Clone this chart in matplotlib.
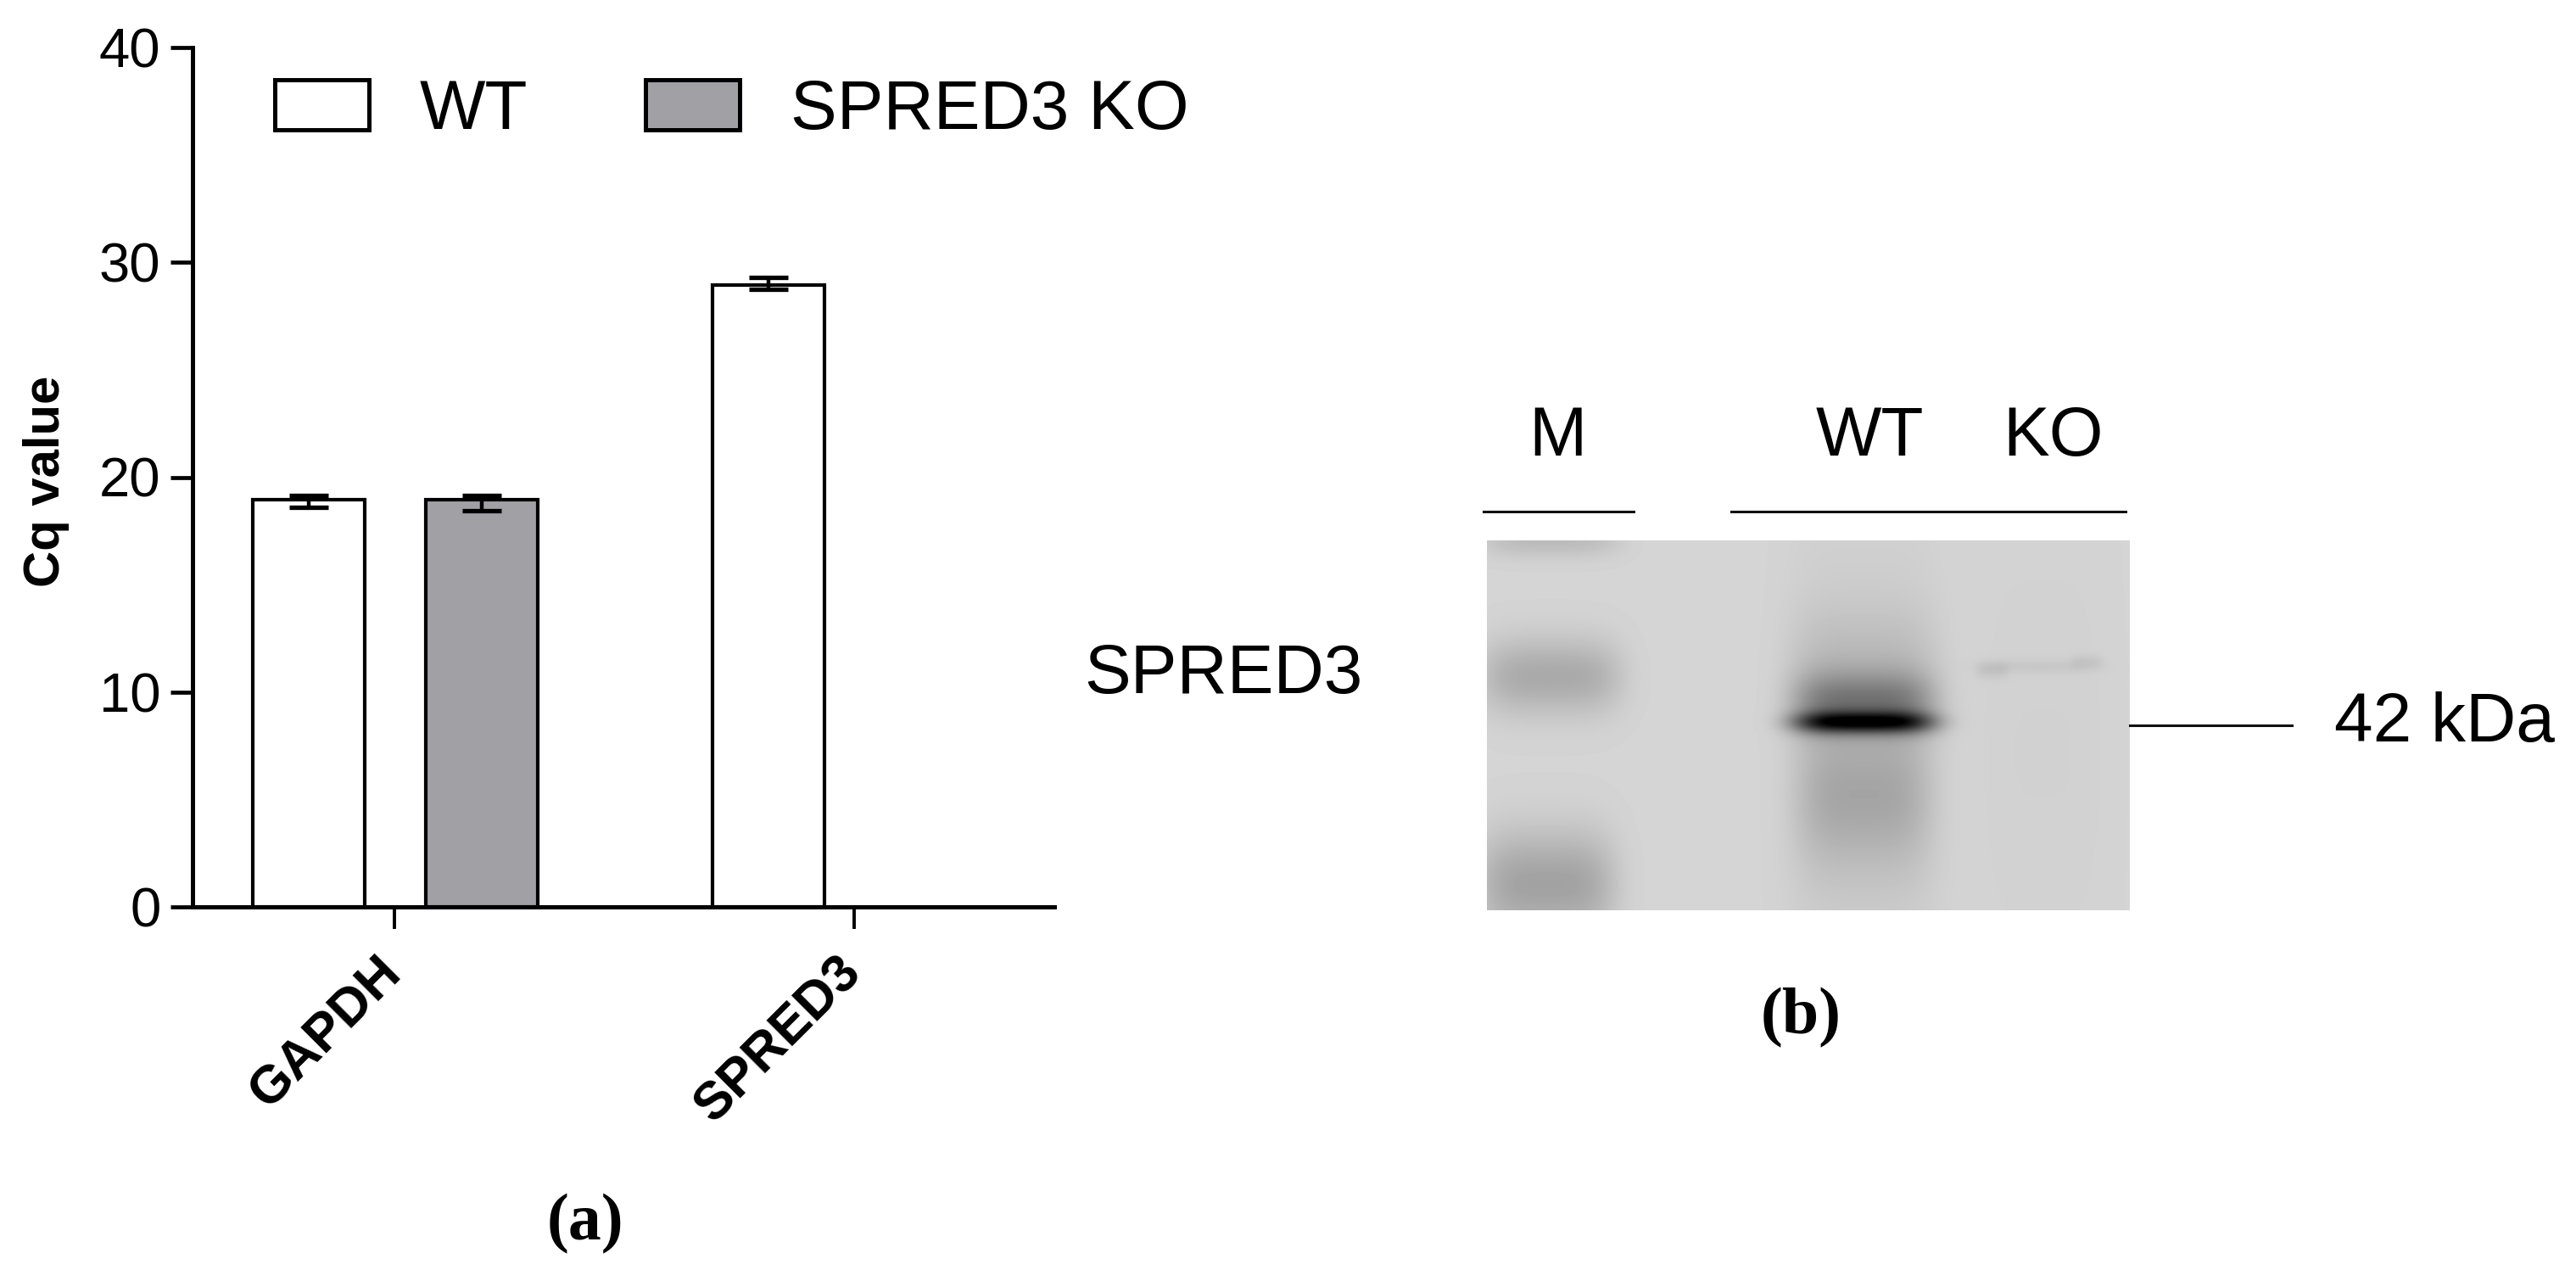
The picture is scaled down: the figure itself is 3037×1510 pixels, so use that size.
import numpy as np
import matplotlib
matplotlib.use("Agg")
import matplotlib.pyplot as plt
from matplotlib.lines import Line2D
from matplotlib.patches import Patch
from matplotlib.transforms import ScaledTranslation

W, H = 3037, 1510
plt.rcParams['font.family'] = ['Liberation Sans', 'DejaVu Sans']

# ---- data (panel a)
genes = ['GAPDH', 'SPRED3']
series_names = ['WT', 'SPRED3 KO']
wt_values = [18.95, 28.95]
wt_err_low = [0.35, 0.22]
wt_err_high = [0.2, 0.35]
ko_values = [18.95]
ko_err_low = [0.5]
ko_err_high = [0.2]
y_ticks = [0, 10, 20, 30, 40]

# ---- blot description (panel b): blot-pixel centre x, y, spread x, y, darkening
blot_cx = [75, 75, 70, 444, 444, 444, 444, 444, 650, 595, 707, 655]
blot_cy = [0, 160, 405, 214, 190, 300, 150, 300, 148, 153, 142, 250]
blot_sx = [68, 70, 68, 70, 70, 66, 72, 80, 62, 16, 16, 75]
blot_sy = [14, 32, 45, 9, 24, 60, 50, 260, 6, 7, 6, 250]
blot_dk = [0.10, 0.17, 0.20, 0.62, 0.27, 0.15, 0.08, 0.04, 0.04, 0.05, 0.04, 0.015]
blot_bg = 0.835

lane_labels = ['M', 'WT', 'KO']

fig = plt.figure(figsize=(W / 100, H / 100), dpi=100, facecolor='white')


def fx(px):
    return px / W


def fy(py):
    return 1 - py / H


# ---- panel a
ax = fig.add_axes([fx(227), fy(1069), (1243 - 227) / W, (1069 - 56) / H])
x = np.arange(len(genes), dtype=float)
off_wt = 0.186
off_ko = 0.19
bw = 0.243
edge = dict(edgecolor='black', linewidth=3.0)
err = dict(ecolor='black', elinewidth=3.2, capsize=16.5, capthick=3.8)
b1 = ax.bar(x - off_wt, wt_values, bw, color='white', label=series_names[0],
            yerr=[wt_err_low, wt_err_high], error_kw=err, **edge)
b2 = ax.bar(x[:1] + off_ko, ko_values, bw, color='#A1A1A5', label=series_names[1],
            yerr=[ko_err_low, ko_err_high], error_kw=err, **edge)
ax.set_xlim(-0.439, 1.435)
ax.set_ylim(0, 40)
ax.set_yticks(y_ticks)
ax.set_xticks(x)
ax.set_xticklabels(genes, rotation=45, ha='right', va='top',
                   rotation_mode='anchor', fontweight='bold', fontsize=45)
ax.tick_params(axis='y', length=19, width=3.4, labelsize=47, pad=8)
ax.tick_params(axis='x', length=19, width=2.8, pad=8)
shift = ScaledTranslation(-22 / 100, -10 / 100, fig.dpi_scale_trans)
for lab in ax.get_xticklabels():
    lab.set_transform(lab.get_transform() + shift)
for s in ('top', 'right'):
    ax.spines[s].set_visible(False)
for s in ('left', 'bottom'):
    ax.spines[s].set_linewidth(3.6)
ax.set_ylabel('Cq value', fontweight='bold', fontsize=43)
ax.yaxis.set_label_coords(-0.143, 0.495)

handles = [Patch(facecolor='white', edgecolor='black', linewidth=3.6),
           Patch(facecolor='#A1A1A5', edgecolor='black', linewidth=3.6)]
fig.legend(handles, series_names, loc='upper left',
           bbox_to_anchor=(fx(324), fy(93)), ncol=2, frameon=False, fontsize=59,
           handlelength=1.35, handleheight=0.73, handletextpad=0.73,
           columnspacing=1.7, borderpad=0, borderaxespad=0)

# ---- panel b: blot
bl, bt, br, bb = 1753, 637, 2511, 1073
yy, xx = np.mgrid[0:bb - bt, 0:br - bl]
img = np.full(xx.shape, blot_bg, dtype=float)
for cx, cy, sx, sy, dk in zip(blot_cx, blot_cy, blot_sx, blot_sy, blot_dk):
    img -= dk * np.exp(-0.5 * (((xx - cx) / sx) ** 4 + ((yy - cy) / sy) ** 2))
img = np.clip(img, 0, 1)
axb = fig.add_axes([fx(bl), fy(bb), (br - bl) / W, (bb - bt) / H])
axb.imshow(img, cmap='gray', vmin=0, vmax=1, aspect='auto', interpolation='bilinear')
axb.axis('off')

# ---- lines and labels
for x0, x1, yl in [(1749, 1926, 603), (2041, 2506, 603), (2511, 2702, 855)]:
    fig.add_artist(Line2D([fx(x0), fx(x1)], [fy(yl), fy(yl)], color='#111111',
                          linewidth=2.2, transform=fig.transFigure))
for s, cx in zip(lane_labels, [1836, 2204, 2421]):
    fig.text(fx(cx), fy(516), s, fontsize=59, ha='center', va='center')
fig.text(fx(1278), fy(796), 'SPRED3', fontsize=59, ha='left', va='center')
fig.text(fx(2752), fy(853), '42 kDa', fontsize=59, ha='left', va='center')
fig.text(fx(690), fy(1443), '(a)', fontsize=56, ha='center', va='center',
         family=['Liberation Serif', 'DejaVu Serif'], fontweight='bold')
fig.text(fx(2123), fy(1200), '(b)', fontsize=56, ha='center', va='center',
         family=['Liberation Serif', 'DejaVu Serif'], fontweight='bold')

fig.savefig('out.png', dpi=100, facecolor='white')
